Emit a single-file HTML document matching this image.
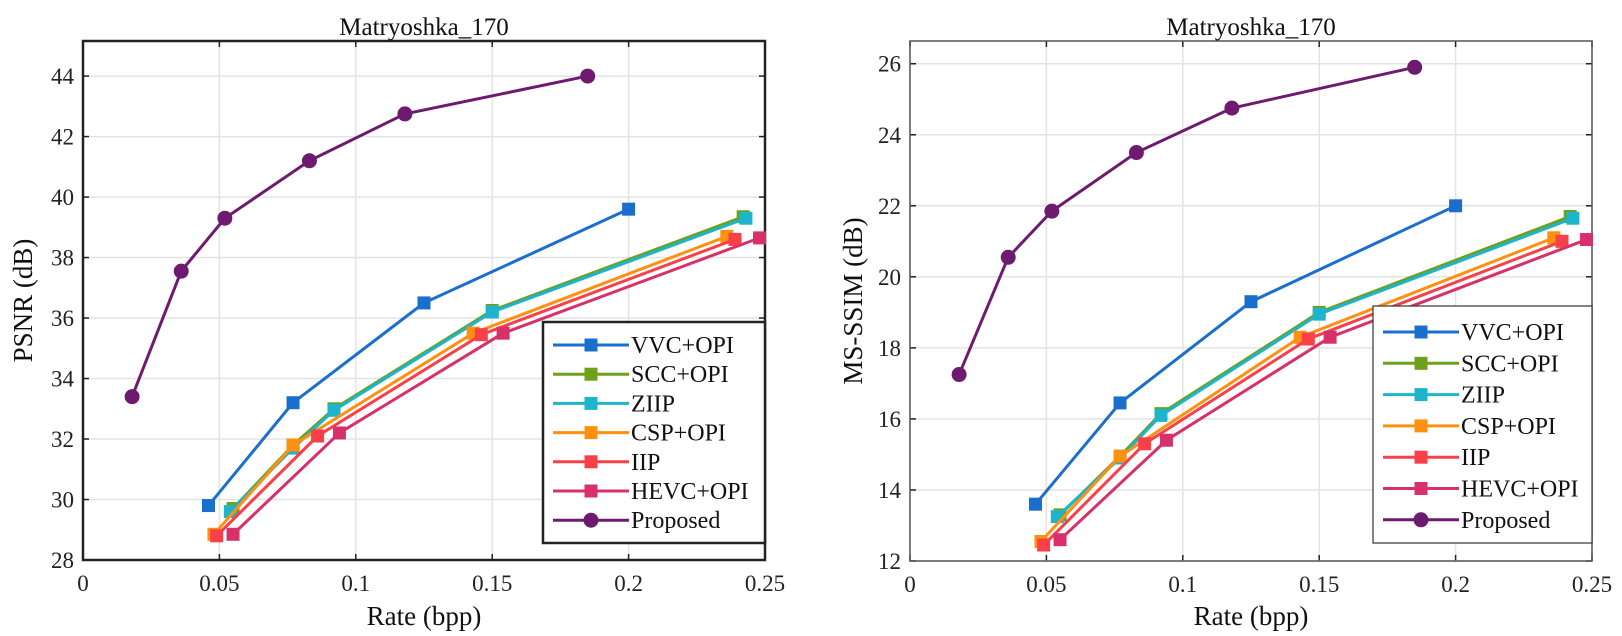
<!DOCTYPE html>
<html><head><meta charset="utf-8"><style>
body{margin:0;background:#fff;width:1622px;height:631px;overflow:hidden}
svg{font-family:"Liberation Serif",serif}
</style></head><body>
<svg id="c" width="1622" height="631"></svg>
<script>
const seriesNames=["VVC+OPI","SCC+OPI","ZIIP","CSP+OPI","IIP","HEVC+OPI","Proposed"];
const seriesColors=["#1a6fcc","#6ea01a","#1db4cc","#ff9010","#f84048","#d8306a","#6e1a6e"];
const xTicks=[0,0.05,0.1,0.15,0.2,0.25];
const xTickLabels=["0","0.05","0.1","0.15","0.2","0.25"];
const psnrTicks=[28,30,32,34,36,38,40,42,44];
const ssimTicks=[12,14,16,18,20,22,24,26];
const rateVVC=[0.046,0.077,0.125,0.2];
const rateSCC=[0.055,0.077,0.092,0.15,0.242];
const rateZIIP=[0.054,0.077,0.092,0.15,0.243];
const rateCSP=[0.048,0.077,0.143,0.236];
const rateIIP=[0.049,0.086,0.146,0.239];
const rateHEVC=[0.055,0.094,0.154,0.248];
const rateProp=[0.018,0.036,0.052,0.083,0.118,0.185];
const psnrVVC=[29.8,33.2,36.5,39.6];
const psnrSCC=[29.7,31.8,33.0,36.25,39.35];
const psnrZIIP=[29.6,31.7,32.95,36.2,39.3];
const psnrCSP=[28.85,31.8,35.5,38.7];
const psnrIIP=[28.8,32.1,35.45,38.6];
const psnrHEVC=[28.85,32.2,35.5,38.65];
const psnrProp=[33.4,37.55,39.3,41.2,42.75,44.0];
const ssimVVC=[13.6,16.45,19.3,22.0];
const ssimSCC=[13.3,14.95,16.15,19.0,21.7];
const ssimZIIP=[13.25,14.9,16.1,18.95,21.65];
const ssimCSP=[12.55,14.95,18.3,21.1];
const ssimIIP=[12.45,15.3,18.25,21.0];
const ssimHEVC=[12.6,15.4,18.3,21.05];
const ssimProp=[17.25,20.55,21.85,23.5,24.75,25.9];

const NS="http://www.w3.org/2000/svg";
const svg=document.getElementById('c');
function mk(tag,attrs,parent){const e=document.createElementNS(NS,tag);for(const k in attrs)e.setAttribute(k,attrs[k]);(parent||svg).appendChild(e);return e;}

function panel(cfg){
  const g=mk('g',{});
  
  
  const X=v=>cfg.x0+(v-0)/(0.25)*(cfg.x1-cfg.x0);
  const Y=v=>cfg.yb-(v-cfg.ymin)/(cfg.ymax-cfg.ymin)*(cfg.yb-cfg.yt);
  const L=cfg.x0,R=cfg.x1,T=cfg.yt,B=cfg.yb;
  xTicks.forEach((t,i)=>{
    const l=mk('line',{x1:X(t),x2:X(t),y1:T,y2:B,stroke:'#e3e3e3','stroke-width':1.5},g);
    
    const tk=mk('text',{x:X(t),y:B+31,'text-anchor':'middle','font-size':23,fill:'#222'},g);
    tk.textContent=xTickLabels[i];
    
    mk('line',{x1:X(t),x2:X(t),y1:B,y2:B-6,stroke:'#222','stroke-width':1.5},g);
    mk('line',{x1:X(t),x2:X(t),y1:T,y2:T+6,stroke:'#222','stroke-width':1.5},g);
  });
  cfg.yTicks.forEach(t=>{
    const l=mk('line',{x1:L,x2:R,y1:Y(t),y2:Y(t),stroke:'#e3e3e3','stroke-width':1.5},g);
    
    const tk=mk('text',{x:L-9,y:Y(t)+8,'text-anchor':'end','font-size':23,fill:'#222'},g);
    tk.textContent=String(t);
    
    mk('line',{x1:L,x2:L+6,y1:Y(t),y2:Y(t),stroke:'#222','stroke-width':1.5},g);
    mk('line',{x1:R,x2:R-6,y1:Y(t),y2:Y(t),stroke:'#222','stroke-width':1.5},g);
  });
  const box=mk('rect',{x:L,y:T,width:R-L,height:B-T,fill:'none',stroke:cfg.boxColor,'stroke-width':cfg.boxW},g);
  
  const title=mk('text',{x:(L+R)/2,y:35,'text-anchor':'middle','font-size':25,fill:'#111'},g);
  title.textContent='Matryoshka_170';
  
  const xl=mk('text',{x:(L+R)/2,y:625,'text-anchor':'middle','font-size':27,fill:'#111'},g);
  xl.textContent='Rate (bpp)';
  
  const yl=mk('text',{x:0,y:0,'text-anchor':'middle','font-size':27,fill:'#111',transform:`translate(${cfg.ylx},${(T+B)/2}) rotate(-90)`},g);
  yl.textContent=cfg.ylabel;
  
  cfg.data.forEach((d,i)=>{
    const sg=mk('g',{},g);
    
    
    const pts=d[0].map((r,j)=>X(r)+','+Y(d[1][j])).join(' ');
    const pl=mk('polyline',{points:pts,fill:'none',stroke:seriesColors[i],'stroke-width':3},sg);
    
    d[0].forEach((r,j)=>{
      let m;
      if(i===6) m=mk('circle',{cx:X(r),cy:Y(d[1][j]),r:7.5,fill:seriesColors[i]},sg);
      else m=mk('rect',{x:X(r)-6.5,y:Y(d[1][j])-6.5,width:13,height:13,fill:seriesColors[i]},sg);
      
    });
  });
  const lg=mk('g',{},g);
  
  mk('rect',{x:cfg.lx,y:cfg.ly,width:cfg.lw,height:cfg.lh,fill:'#fff',stroke:cfg.legStroke,'stroke-width':cfg.legW},lg);
  seriesNames.forEach((n,i)=>{
    const yy=cfg.ly+cfg.lpad+i*cfg.lstep;
    const e=mk('g',{},lg);
    
    mk('line',{x1:cfg.lx+10,x2:cfg.lx+86,y1:yy,y2:yy,stroke:seriesColors[i],'stroke-width':3},e);
    if(i===6) mk('circle',{cx:cfg.lx+48,cy:yy,r:7.5,fill:seriesColors[i]},e);
    else mk('rect',{x:cfg.lx+41.5,y:yy-6.5,width:13,height:13,fill:seriesColors[i]},e);
    const t=mk('text',{x:cfg.lx+88,y:yy+8,'font-size':24,fill:'#111'},e);
    t.textContent=n;
  });
}
panel({id:'psnr',x0:83,x1:765,yt:41,yb:560,ymin:28,ymax:45.16,yTicks:psnrTicks,ylabel:'PSNR (dB)',ylx:32,boxColor:'#222',boxW:2.5,
  data:[[rateVVC,psnrVVC],[rateSCC,psnrSCC],[rateZIIP,psnrZIIP],[rateCSP,psnrCSP],[rateIIP,psnrIIP],[rateHEVC,psnrHEVC],[rateProp,psnrProp]],
  lx:543,ly:322,lw:222,lh:221,lpad:23,lstep:29.2,legStroke:'#222',legW:2.5});
panel({id:'ms-ssim',x0:910,x1:1592,yt:41,yb:561,ymin:12,ymax:26.64,yTicks:ssimTicks,ylabel:'MS-SSIM (dB)',ylx:862,boxColor:'#555',boxW:1.5,
  data:[[rateVVC,ssimVVC],[rateSCC,ssimSCC],[rateZIIP,ssimZIIP],[rateCSP,ssimCSP],[rateIIP,ssimIIP],[rateHEVC,ssimHEVC],[rateProp,ssimProp]],
  lx:1373,ly:306,lw:219,lh:237,lpad:26,lstep:31.3,legStroke:'#333',legW:1.2});
</script>
</body></html>
